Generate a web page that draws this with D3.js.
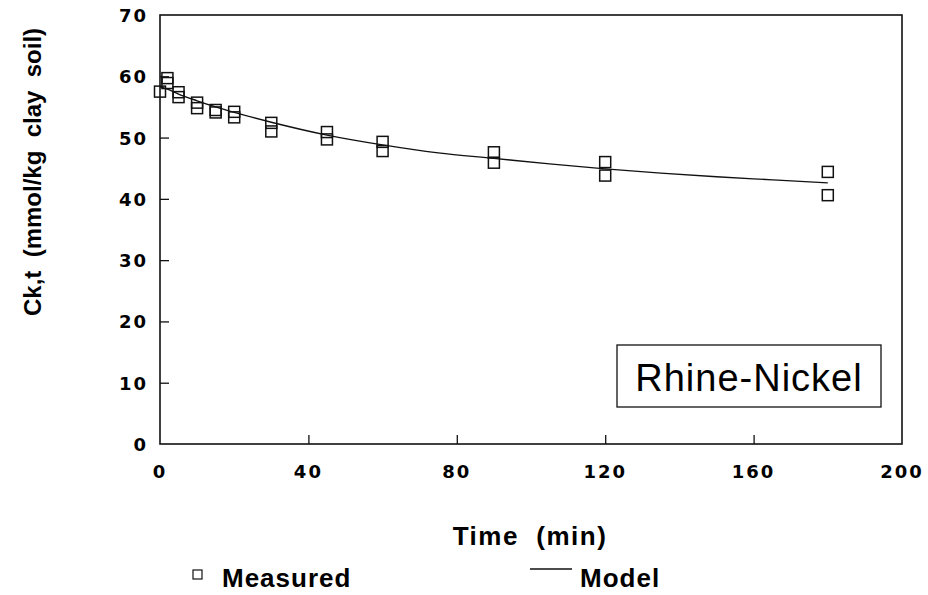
<!DOCTYPE html>
<html><head><meta charset="utf-8">
<script src="https://cdn.jsdelivr.net/npm/d3@7"></script>
<style>body{margin:0;background:#fff}svg{display:block}</style>
</head><body>
<script>
// Measured data (time in min, Ck,t in mmol/kg clay soil)
const measuredTime = [0, 2, 2, 5, 5, 10, 10, 15, 15, 20, 20, 30, 30, 45, 45, 60, 60, 90, 90, 120, 120, 180, 180];
const measuredConc = [57.5, 59.7, 58.9, 57.4, 56.6, 55.7, 54.8, 54.5, 54.1, 54.2, 53.3, 52.4, 51.0, 50.9, 49.7, 49.3, 47.8, 47.6, 45.9, 46.0, 43.8, 44.4, 40.6];
// Model curve
const modelTime = [0, 2, 5, 10, 15, 20, 30, 45, 60, 75, 90, 105, 120, 135, 150, 165, 180];
const modelConc = [58.3, 57.9, 57.1, 56.0, 55.0, 54.1, 52.5, 50.4, 48.8, 47.5, 46.6, 45.7, 44.9, 44.2, 43.6, 43.1, 42.6];
const xTicks = [0, 40, 80, 120, 160, 200];
const yTicks = [0, 10, 20, 30, 40, 50, 60, 70];

const W = 928, H = 595;
const m = {left: 160, top: 15, right: 902, bottom: 444};
const svg = d3.select("body").append("svg").attr("width", W).attr("height", H);
const x = d3.scaleLinear().domain([0, 200]).range([m.left, m.right]);
const y = d3.scaleLinear().domain([0, 70]).range([m.bottom, m.top]);

const tickFont = "'DejaVu Sans', sans-serif";
const txtFont = "'Liberation Sans', Arial, sans-serif";

// frame
svg.append("rect").attr("x", m.left).attr("y", m.top)
  .attr("width", m.right - m.left).attr("height", m.bottom - m.top)
  .attr("fill", "none").attr("stroke", "#111").attr("stroke-width", 1.6);

// axes with inward ticks
const xAxis = svg.append("g").attr("transform", `translate(0,${m.bottom})`)
  .call(d3.axisTop(x).tickValues(xTicks.slice(1, -1)).tickSize(9).tickFormat(""));
const yAxis = svg.append("g").attr("transform", `translate(${m.left},0)`)
  .call(d3.axisRight(y).tickValues(yTicks.slice(1, -1)).tickSize(9).tickFormat(""));
[xAxis, yAxis].forEach(g => { g.select(".domain").remove(); g.selectAll("line").attr("stroke", "#111").attr("stroke-width", 1.3); });

// tick labels
svg.append("g").selectAll("text").data(xTicks).join("text")
  .attr("x", d => x(d)).attr("y", 478).attr("text-anchor", "middle")
  .style("font-family", tickFont).style("font-weight", "bold").style("font-size", "18px")
  .style("letter-spacing", "2px").text(d => d);
svg.append("g").selectAll("text").data(yTicks).join("text")
  .attr("x", 148).attr("y", d => y(d) + 7).attr("text-anchor", "end")
  .style("font-family", tickFont).style("font-weight", "bold").style("font-size", "18px")
  .style("letter-spacing", "2px").text(d => d);

// model line
const line = d3.line().x((d, i) => x(modelTime[i])).y(d => y(d)).curve(d3.curveMonotoneX);
svg.append("path").datum(modelConc).attr("d", line)
  .attr("fill", "none").attr("stroke", "#111").attr("stroke-width", 1.4);

// measured squares
const s = 11;
svg.append("g").selectAll("rect").data(measuredConc).join("rect")
  .attr("x", (d, i) => x(measuredTime[i]) - s / 2).attr("y", d => y(d) - s / 2)
  .attr("width", s).attr("height", s).attr("fill", "none")
  .attr("stroke", "#111").attr("stroke-width", 1.5);

// annotation box
svg.append("rect").attr("x", 617).attr("y", 345).attr("width", 264).attr("height", 62)
  .attr("fill", "none").attr("stroke", "#111").attr("stroke-width", 1.3);
svg.append("text").attr("x", 749).attr("y", 391).attr("text-anchor", "middle")
  .style("font-family", txtFont).style("font-size", "38px").style("letter-spacing", "1px")
  .text("Rhine-Nickel");

// axis titles
svg.append("text").attr("x", 530).attr("y", 545).attr("text-anchor", "middle")
  .style("font-family", txtFont).style("font-weight", "bold").style("font-size", "26px")
  .style("letter-spacing", "1.5px").style("white-space", "pre")
  .text("Time  (min)");
svg.append("text").attr("transform", "translate(41,172) rotate(-90)").attr("text-anchor", "middle")
  .style("font-family", txtFont).style("font-weight", "bold").style("font-size", "24px")
  .style("white-space", "pre")
  .text("Ck,t  (mmol/kg  clay  soil)");

// legend
svg.append("rect").attr("x", 193).attr("y", 570).attr("width", 9).attr("height", 9)
  .attr("fill", "none").attr("stroke", "#111").attr("stroke-width", 1.2);
svg.append("text").attr("x", 222).attr("y", 587)
  .style("font-family", txtFont).style("font-weight", "bold").style("font-size", "26px")
  .style("letter-spacing", "1px").text("Measured");
svg.append("line").attr("x1", 530).attr("x2", 572).attr("y1", 569).attr("y2", 569)
  .attr("stroke", "#111").attr("stroke-width", 1.4);
svg.append("text").attr("x", 580).attr("y", 587)
  .style("font-family", txtFont).style("font-weight", "bold").style("font-size", "26px")
  .style("letter-spacing", "1px").text("Model");
</script>
</body></html>
